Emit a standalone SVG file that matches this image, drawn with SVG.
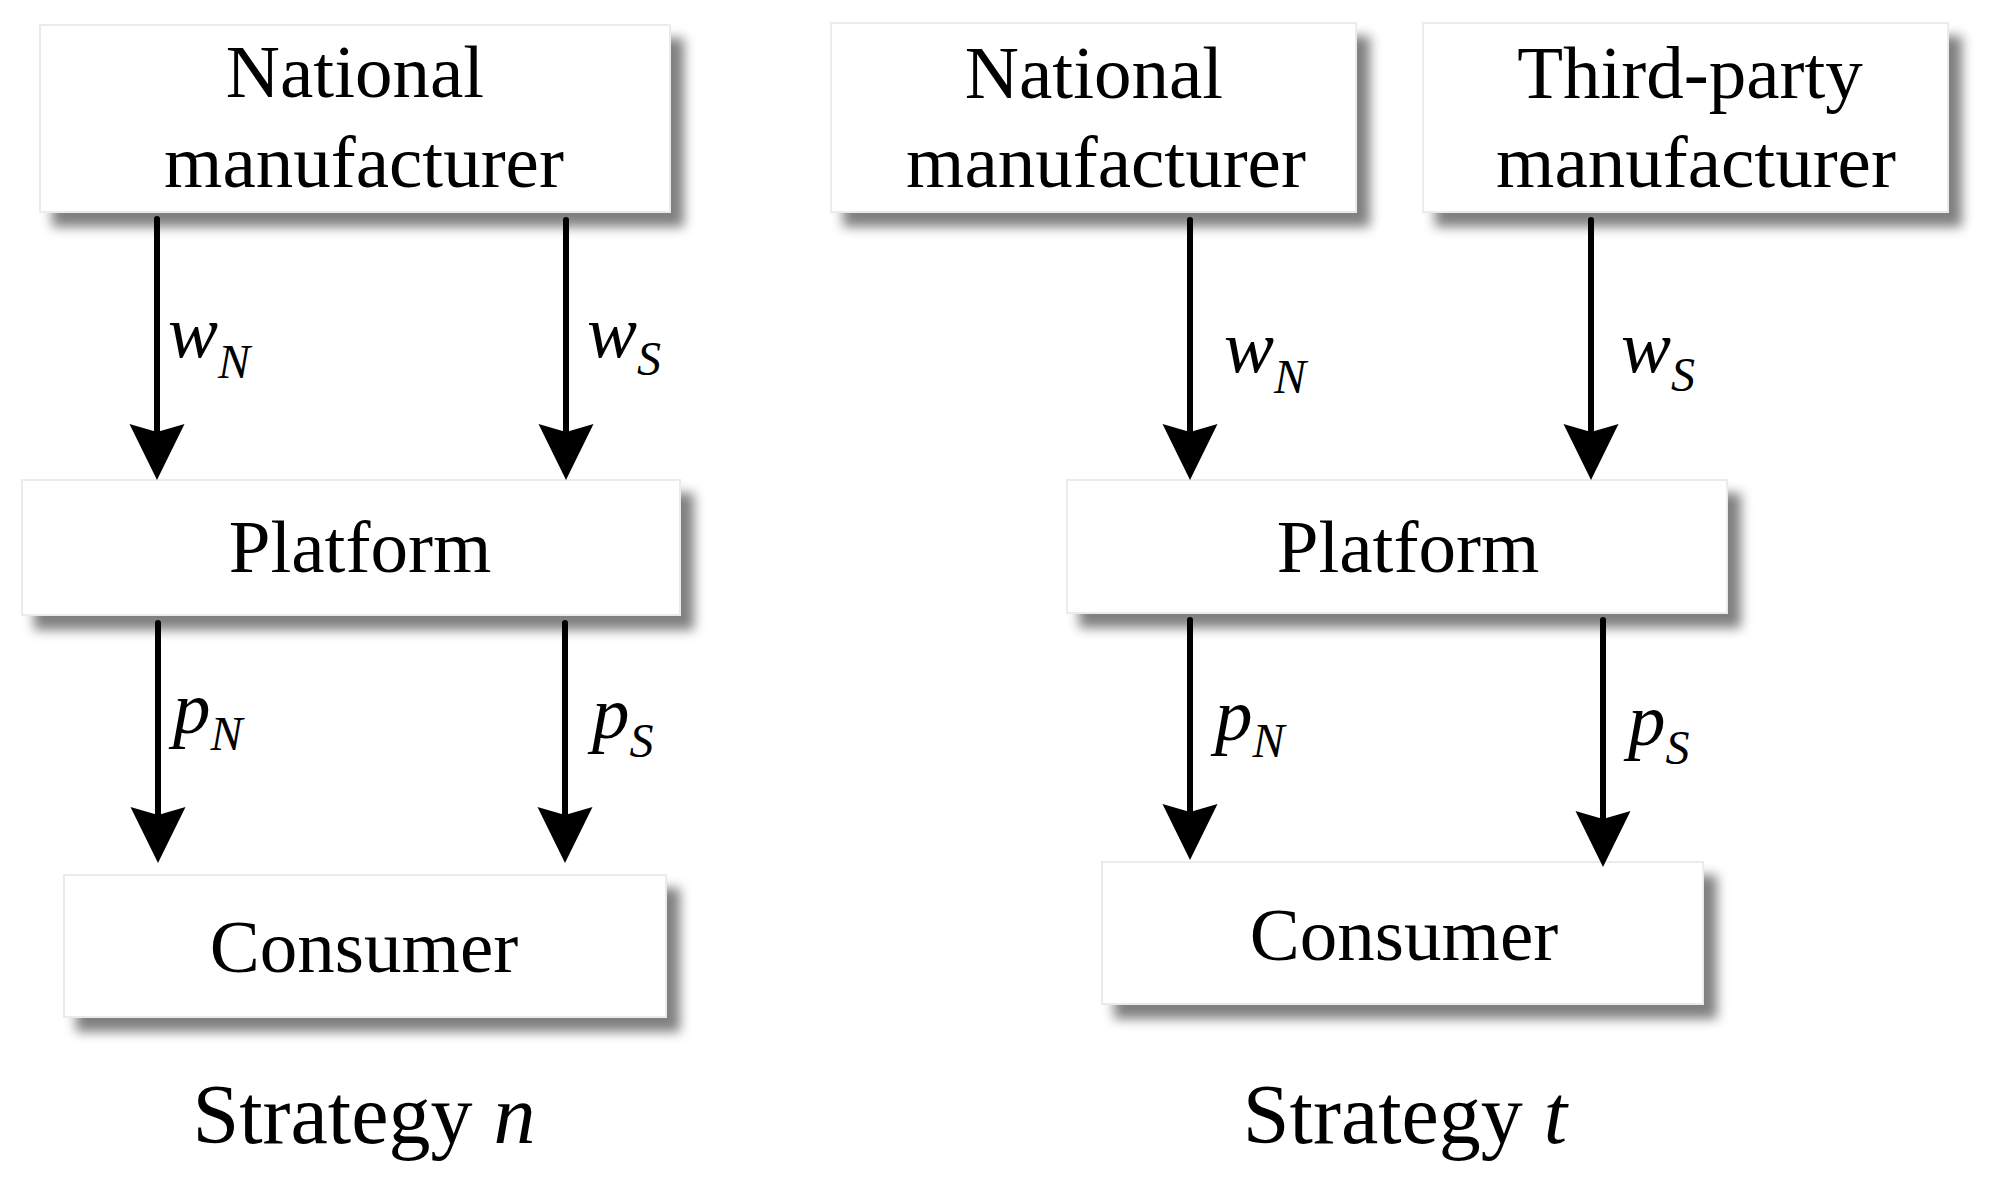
<svg xmlns="http://www.w3.org/2000/svg" width="1998" height="1183" viewBox="0 0 1998 1183">
<style>
  text { font-family: "Liberation Serif", "Times New Roman", serif; fill: #000; }
  .lbl { font-size: 75px; text-anchor: middle; }
  .cap { font-size: 84px; text-anchor: middle; }
  .var { font-size: 75px; font-style: italic; }
  .sub { font-size: 48px; font-style: italic; }
  .box { fill: #ffffff; stroke: #ebebeb; stroke-width: 2; filter: url(#shadow); }
  .conn { stroke: #000; stroke-width: 6; stroke-linecap: round; fill: none; marker-end: url(#arrow); }
</style>
<defs>
  <filter id="shadow" x="-10%" y="-25%" width="130%" height="160%">
    <feGaussianBlur in="SourceAlpha" stdDeviation="6"/>
    <feOffset dx="13" dy="14" result="b"/>
    <feComponentTransfer in="b" result="s">
      <feFuncA type="linear" slope="0.5"/>
    </feComponentTransfer>
    <feMerge>
      <feMergeNode in="s"/>
      <feMergeNode in="SourceGraphic"/>
    </feMerge>
  </filter>
  <marker id="arrow" markerUnits="userSpaceOnUse" viewBox="0 -28 56 56" refX="8" refY="0" markerWidth="56" markerHeight="56" orient="auto">
    <path d="M0,-27.5 L56,0 L0,27.5 L8,0 Z" fill="#000"/>
  </marker>
</defs>

<rect width="1998" height="1183" fill="#ffffff"/>

<!-- Strategy n -->
<g id="n-national">
  <rect class="box" x="40" y="25" width="630" height="187"/>
  <text class="lbl" x="355" y="97">National</text>
  <text class="lbl" x="364" y="187">manufacturer</text>
</g>
<g id="n-platform">
  <rect class="box" x="22" y="480" width="658" height="135"/>
  <text class="lbl" x="360" y="572">Platform</text>
</g>
<g id="n-consumer">
  <rect class="box" x="64" y="875" width="602" height="142"/>
  <text class="lbl" x="364" y="972">Consumer</text>
</g>
<g id="n-caption">
  <text class="cap" x="364" y="1143">Strategy <tspan font-style="italic">n</tspan></text>
</g>

<!-- Strategy t -->
<g id="t-national">
  <rect class="box" x="831" y="23" width="525" height="189"/>
  <text class="lbl" x="1094" y="98">National</text>
  <text class="lbl" x="1106" y="187">manufacturer</text>
</g>
<g id="t-thirdparty">
  <rect class="box" x="1423" y="23" width="525" height="189"/>
  <text class="lbl" x="1690" y="98">Third-party</text>
  <text class="lbl" x="1696" y="187">manufacturer</text>
</g>
<g id="t-platform">
  <rect class="box" x="1067" y="480" width="660" height="133"/>
  <text class="lbl" x="1408" y="572">Platform</text>
</g>
<g id="t-consumer">
  <rect class="box" x="1102" y="862" width="601" height="142"/>
  <text class="lbl" x="1404" y="960">Consumer</text>
</g>
<g id="t-caption">
  <text class="cap" x="1405" y="1143">Strategy <tspan font-style="italic">t</tspan></text>
</g>

<!-- Connectors -->
<g id="connectors">
  <line class="conn" x1="157" y1="219" x2="157" y2="432"/>
  <line class="conn" x1="566" y1="220" x2="566" y2="432"/>
  <line class="conn" x1="158" y1="623" x2="158" y2="815"/>
  <line class="conn" x1="565" y1="623" x2="565" y2="815"/>
  <line class="conn" x1="1190" y1="220" x2="1190" y2="432"/>
  <line class="conn" x1="1591" y1="220" x2="1591" y2="432"/>
  <line class="conn" x1="1190" y1="620" x2="1190" y2="812"/>
  <line class="conn" x1="1603" y1="620" x2="1603" y2="819"/>

  <text class="var" x="168" y="357">w<tspan class="sub" dy="21">N</tspan></text>
  <text class="var" x="587" y="357">w<tspan class="sub" dy="18">S</tspan></text>
  <text class="var" x="173" y="733">p<tspan class="sub" dy="17">N</tspan></text>
  <text class="var" x="592" y="738">p<tspan class="sub" dy="19">S</tspan></text>

  <text class="var" x="1224" y="372">w<tspan class="sub" dy="21">N</tspan></text>
  <text class="var" x="1621" y="372">w<tspan class="sub" dy="19">S</tspan></text>
  <text class="var" x="1215" y="740">p<tspan class="sub" dy="17">N</tspan></text>
  <text class="var" x="1628" y="745">p<tspan class="sub" dy="19">S</tspan></text>
</g>
</svg>
